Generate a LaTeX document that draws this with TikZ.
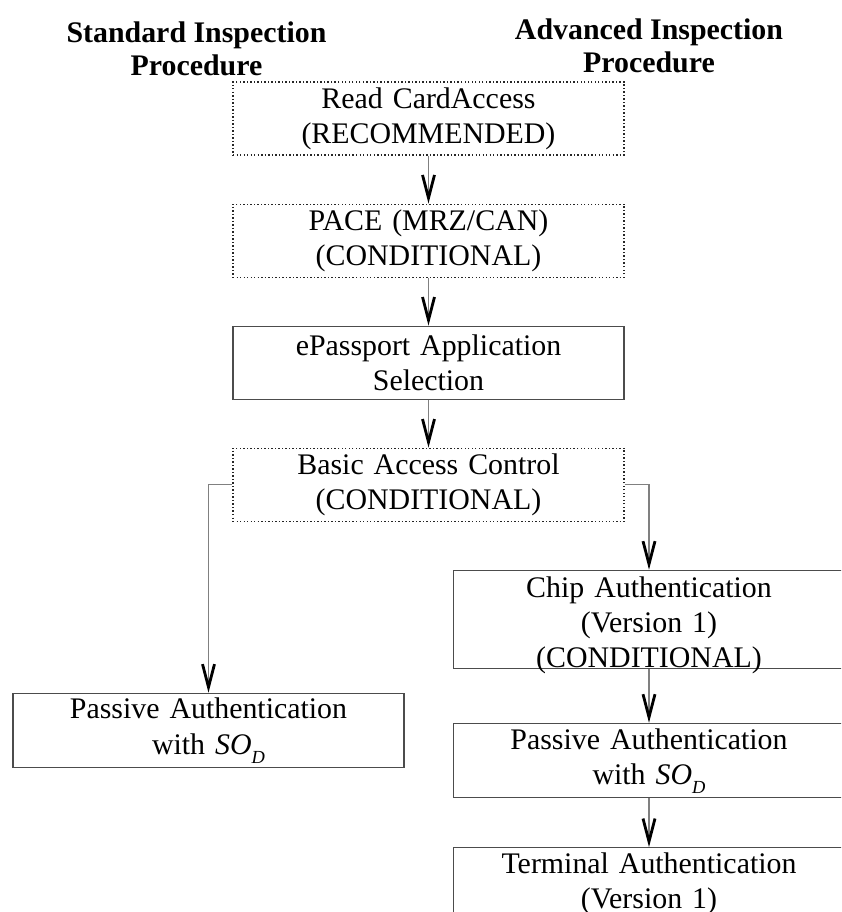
\documentclass[tikz,border=0pt]{standalone}
\usepackage{fontspec}
\setmainfont{Liberation Serif}
\usepackage{tikz}
\usetikzlibrary{arrows.meta,positioning}

\newcommand{\sodsig}{\textit{SO}\raisebox{-5.5pt}[0pt][4.8pt]{\fontsize{10.5}{10.5}\selectfont\itshape D}}

\begin{document}
\begin{tikzpicture}[node distance=0.96cm, font=\fontsize{17}{20}\selectfont]
    \tikzstyle{stage} = [rectangle, draw=black!70, line width=0.6pt,
        text width=7.5cm, align=center, minimum width=7.82cm,
        minimum height=1.46cm, inner xsep=0.16cm, inner ysep=0.1cm]
    \tikzstyle{optional} = [stage, draw=black!85, dash pattern=on 0.8pt off 1.2pt]
    \tikzstyle{header} = [font=\fontsize{17}{18.8}\selectfont\bfseries,
        align=center, inner sep=0pt, anchor=north]
    \tikzstyle{flow} = [draw=black!50, line width=0.6pt,
        -{Straight Barb[length=0.46cm, width=0.24cm, line width=1.6pt, color=black]}]

    \useasboundingbox (0,0) rectangle (16.82,-18.24);
    \clip (0,0) rectangle (16.82,-18.24);

    \node (stdhead) [header] at (3.93,-0.43) {Standard Inspection\\Procedure};
    \node (advhead) [header] at (12.98,-0.37) {Advanced Inspection\\Procedure};

    \node (read) [optional] at (8.57,-2.37) {Read CardAccess\\(RECOMMENDED)};
    \node (pace) [optional, below=of read] {PACE (MRZ/CAN)\\(CONDITIONAL)};
    \node (select) [stage, below=of pace] {ePassport Application\\Selection};
    \node (bac) [optional, below=of select] {Basic Access Control\\(CONDITIONAL)};

    \node (passl) [stage, below=3.42cm of bac, xshift=-4.4cm]
        {Passive Authentication\\with \sodsig};

    \node (chip) [stage, below=of bac, xshift=4.41cm, minimum height=1.96cm,
        text depth=1.29cm] {Chip Authentication\\(Version 1)\\(CONDITIONAL)};
    \node (passr) [stage, below=1.08cm of chip]
        {Passive Authentication\\with \sodsig};
    \node (term) [stage, below=0.98cm of passr]
        {Terminal Authentication\\(Version 1)};

    \draw [flow] (read) -- (pace);
    \draw [flow] (pace) -- (select);
    \draw [flow] (select) -- (bac);
    \draw [flow] (bac.west) -| (passl.north);
    \draw [flow] (bac.east) -| (chip.north);
    \draw [flow] (chip) -- (passr);
    \draw [flow] (passr) -- (term);
\end{tikzpicture}
\end{document}
